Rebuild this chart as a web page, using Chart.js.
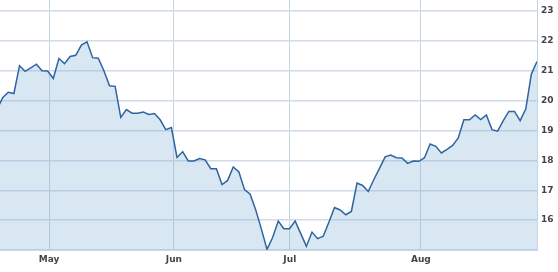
<!DOCTYPE html>
<html>
<head>
<meta charset="utf-8">
<script src="https://cdn.jsdelivr.net/npm/chart.js@4"></script>
<style>
  html, body { margin: 0; padding: 0; background: #fff; }
  #wrap { width: 558px; height: 272px; }
</style>
</head>
<body>
<div id="wrap"><canvas id="priceChart" width="558" height="272"></canvas></div>
<script>
  // closing prices, one per trading day
  const prices = [
    19.70, 20.10, 20.28, 20.24, 21.17, 20.98, 21.10, 21.22, 21.00, 20.99,
    20.74, 21.41, 21.24, 21.48, 21.52, 21.86, 21.97, 21.44, 21.42, 21.00,
    20.50, 20.48, 19.44, 19.70, 19.58, 19.58, 19.62, 19.54, 19.57, 19.36,
    19.03, 19.10, 18.10, 18.29, 17.98, 17.98, 18.06, 18.02, 17.72, 17.72,
    17.19, 17.33, 17.78, 17.61, 17.02, 16.87, 16.34, 15.70, 15.02, 15.42,
    15.97, 15.71, 15.71, 15.97, 15.55, 15.12, 15.60, 15.38, 15.46, 15.93,
    16.42, 16.34, 16.18, 16.29, 17.24, 17.16, 16.96, 17.36, 17.73, 18.12,
    18.18, 18.09, 18.08, 17.90, 17.98, 17.97, 18.09, 18.55, 18.47, 18.25,
    18.37, 18.50, 18.75, 19.36, 19.36, 19.52, 19.37, 19.52, 19.03, 18.98,
    19.33, 19.64, 19.64, 19.33, 19.72, 20.89, 21.31
  ];

  // month boundaries, in trading-day index units
  const monthLabels = ['May', 'Jun', 'Jul', 'Aug'];
  const monthPos = [9.25, 31.45, 52.05, 75.35];

  // price axis ticks (15 is the floor, left unlabelled)
  const yTicks = [15, 16, 17, 18, 19, 20, 21, 22, 23];

  const points = prices.map((p, i) => ({ x: i, y: p }));

  const ctx = document.getElementById('priceChart').getContext('2d');
  const priceChart = new Chart(ctx, {
    type: 'line',
    data: {
      datasets: [{
        data: points,
        borderColor: '#2e64a0',
        borderWidth: 1.5,
        backgroundColor: 'rgba(130, 176, 214, 0.30)',
        fill: 'start',
        pointRadius: 0,
        tension: 0
      }]
    },
    options: {
      responsive: false,
      animation: false,
      layout: { padding: 0 },
      plugins: {
        legend: { display: false },
        tooltip: { enabled: false }
      },
      scales: {
        x: {
          type: 'linear',
          min: 0.53,
          max: prices.length - 1,
          afterBuildTicks: (scale) => {
            scale.ticks = monthPos.map(v => ({ value: v }));
          },
          afterFit: (scale) => {
            scale.height = 22;
            scale.paddingLeft = 0;
            scale.paddingRight = 0;
          },
          grid: { color: '#c3d5e4', lineWidth: 1, drawTicks: false },
          border: { color: '#c9d9e6', width: 1 },
          ticks: {
            autoSkip: false,
            maxRotation: 0,
            padding: 4,
            color: '#444',
            font: { family: 'DejaVu Sans', size: 9, weight: 'bold' },
            callback: (v, i) => monthLabels[i]
          }
        },
        y: {
          position: 'right',
          min: 15,
          max: 23.37,
          afterBuildTicks: (scale) => {
            scale.ticks = yTicks.map(v => ({ value: v }));
          },
          afterFit: (scale) => {
            scale.width = 21;
            scale.paddingTop = 0;
            scale.paddingBottom = 0;
          },
          grid: { color: '#cfdce8', lineWidth: 1.5, drawTicks: false },
          border: { color: '#c3d5e4', width: 1 },
          ticks: {
            padding: 4,
            color: '#444',
            font: { family: 'DejaVu Sans', size: 9, weight: 'bold' },
            callback: (v) => (v === 15 ? '' : v)
          }
        }
      }
    }
  });
</script>
</body>
</html>
